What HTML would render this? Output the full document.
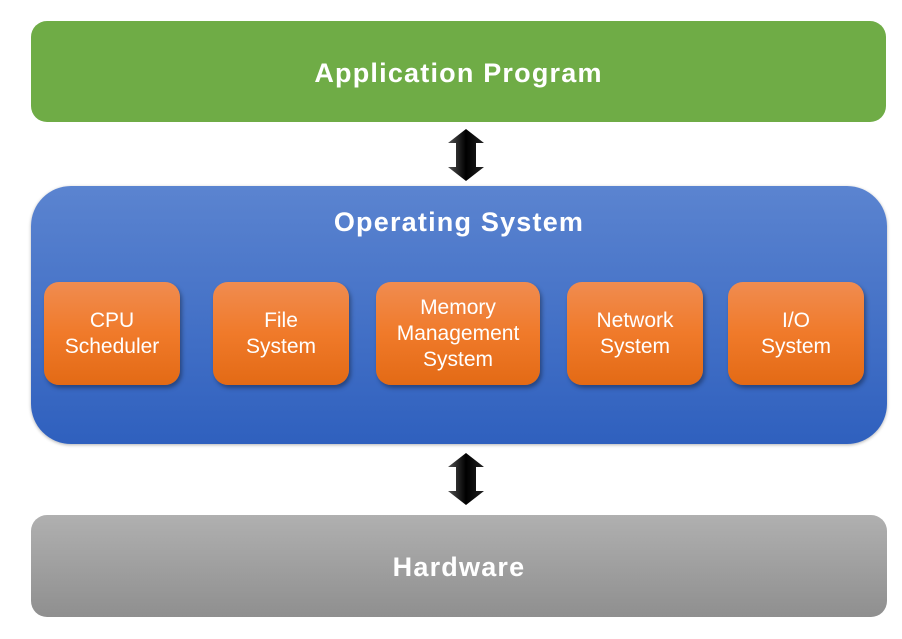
<!DOCTYPE html>
<html><head><style>
body{margin:0;width:902px;height:639px;background:#fff;position:relative;overflow:hidden;font-family:"Liberation Sans",sans-serif}
.b{position:absolute;color:#fff;text-align:center;box-sizing:border-box}
.green{left:31px;top:21px;width:855px;height:101px;border-radius:16px;background:#6fac46;font-weight:bold;font-size:27px;letter-spacing:1.2px;line-height:104px}
.blue{left:31px;top:186px;width:856px;height:258px;border-radius:40px;background:linear-gradient(#5b84d0,#2f60be);box-shadow:0 1px 3px rgba(0,0,0,.3)}
.blue .t{position:absolute;left:0;right:0;top:21px;font-weight:bold;font-size:27px;letter-spacing:1.2px}
.gray{left:31px;top:515px;width:856px;height:102px;border-radius:16px;background:linear-gradient(#b0b0b0,#8f8f8f);font-weight:bold;font-size:27px;letter-spacing:1.2px;line-height:105px}
.o{position:absolute;top:282px;height:103px;border-radius:15px;background:linear-gradient(#f08c50,#f07a2a 50%,#e36a15);box-shadow:2px 3px 4px rgba(0,0,0,.35);color:#fff;font-size:21px;line-height:26px;display:flex;align-items:center;justify-content:center;text-align:center}
</style></head><body>
<div class="b green">Application Program</div>
<svg style="position:absolute;left:0;top:0" width="902" height="639">
<defs><linearGradient id="g" x1="0" x2="1"><stop offset="0" stop-color="#555"/><stop offset=".5" stop-color="#000"/><stop offset="1" stop-color="#222"/></linearGradient></defs>
<polygon points="466,129 484,143 476,143 476,167 484,167 466,181 448,167 456,167 456,143 448,143" fill="url(#g)"/>
<polygon points="466,453 484,467 476,467 476,491 484,491 466,505 448,491 456,491 456,467 448,467" fill="url(#g)"/>
</svg>
<div class="b blue"><div class="t">Operating System</div></div>
<div class="o" style="left:44px;width:136px">CPU<br>Scheduler</div>
<div class="o" style="left:213px;width:136px">File<br>System</div>
<div class="o" style="left:376px;width:164px">Memory<br>Management<br>System</div>
<div class="o" style="left:567px;width:136px">Network<br>System</div>
<div class="o" style="left:728px;width:136px">I/O<br>System</div>
<div class="b gray">Hardware</div>
</body></html>
